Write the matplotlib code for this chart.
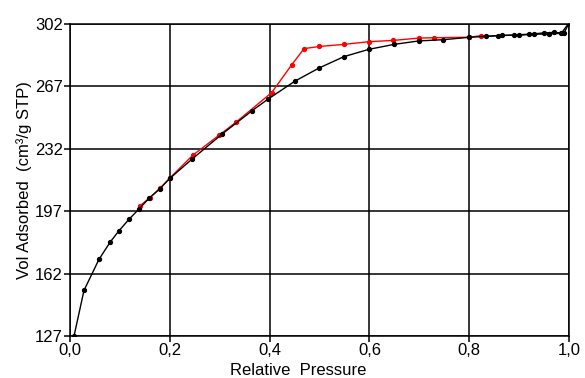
import matplotlib
matplotlib.use("Agg")
import matplotlib.pyplot as plt
from matplotlib.ticker import FuncFormatter

plt.rcParams['font.family'] = ['Liberation Sans', 'DejaVu Sans']

# adsorption branch (black)
ads_p = [0.008, 0.028, 0.058, 0.081, 0.098, 0.118, 0.138, 0.159, 0.180, 0.200,
         0.244, 0.304, 0.365, 0.397, 0.451, 0.499, 0.549, 0.599, 0.650, 0.699,
         0.748, 0.799, 0.857, 0.900, 0.930, 0.960, 0.990, 1.000]
ads_v = [127.0, 152.6, 170.0, 179.9, 186.0, 192.4, 198.2, 204.4, 209.6, 215.4,
         226.1, 240.1, 253.4, 259.9, 270.0, 277.3, 283.7, 287.8, 290.6, 292.5,
         293.2, 294.5, 295.5, 295.8, 296.2, 296.5, 296.8, 302.5]

# desorption, high-pressure part (black)
des_hi_p = [1.000, 0.985, 0.970, 0.950, 0.920, 0.890, 0.865, 0.833]
des_hi_v = [302.5, 297.0, 297.3, 297.0, 296.3, 295.8, 295.6, 295.0]

# desorption branch (red)
des_p = [0.823, 0.800, 0.730, 0.699, 0.648, 0.600, 0.550, 0.500, 0.469, 0.444,
         0.404, 0.333, 0.299, 0.246, 0.200, 0.180, 0.160, 0.140]
des_v = [295.4, 294.6, 294.3, 294.1, 292.8, 292.1, 290.6, 289.4, 288.2, 279.0,
         263.5, 247.0, 239.7, 228.4, 215.6, 209.8, 204.6, 200.0]

xticks = [0.0, 0.2, 0.4, 0.6, 0.8, 1.0]
yticks = [127, 162, 197, 232, 267, 302]

fig = plt.figure(figsize=(5.85, 3.78), dpi=100)
ax = fig.add_axes([0.1197, 0.111, 0.8529, 0.8255])

ax.plot(des_p, des_v, color='red', lw=1.0, marker='o', ms=2.8, zorder=3)
ax.plot(ads_p, ads_v, color='black', lw=1.0, marker='o', ms=2.8, zorder=4)
ax.plot(des_hi_p, des_hi_v, color='black', lw=1.0, marker='o', ms=2.8, zorder=4)

ax.set_xlim(0, 1.0)
ax.set_ylim(127, 302)
ax.set_xticks(xticks)
ax.set_yticks(yticks)
ax.xaxis.set_major_formatter(FuncFormatter(lambda v, p: f"{v:.1f}".replace('.', ',')))
ax.grid(True, color='black', lw=1.1)
ax.set_axisbelow(True)
for s in ax.spines.values():
    s.set_color('black')
    s.set_linewidth(1.1)
ax.tick_params(direction='out', length=4, width=1.1, labelsize=12, pad=1, colors='black')

ax.set_xlabel('Relative  Pressure', fontsize=12, labelpad=0)
ax.xaxis.set_label_coords(0.457, -0.085)
ax.set_ylabel('Vol Adsorbed  (cm³/g STP)', fontsize=12, labelpad=2)

fig.savefig('out.png', dpi=100)
